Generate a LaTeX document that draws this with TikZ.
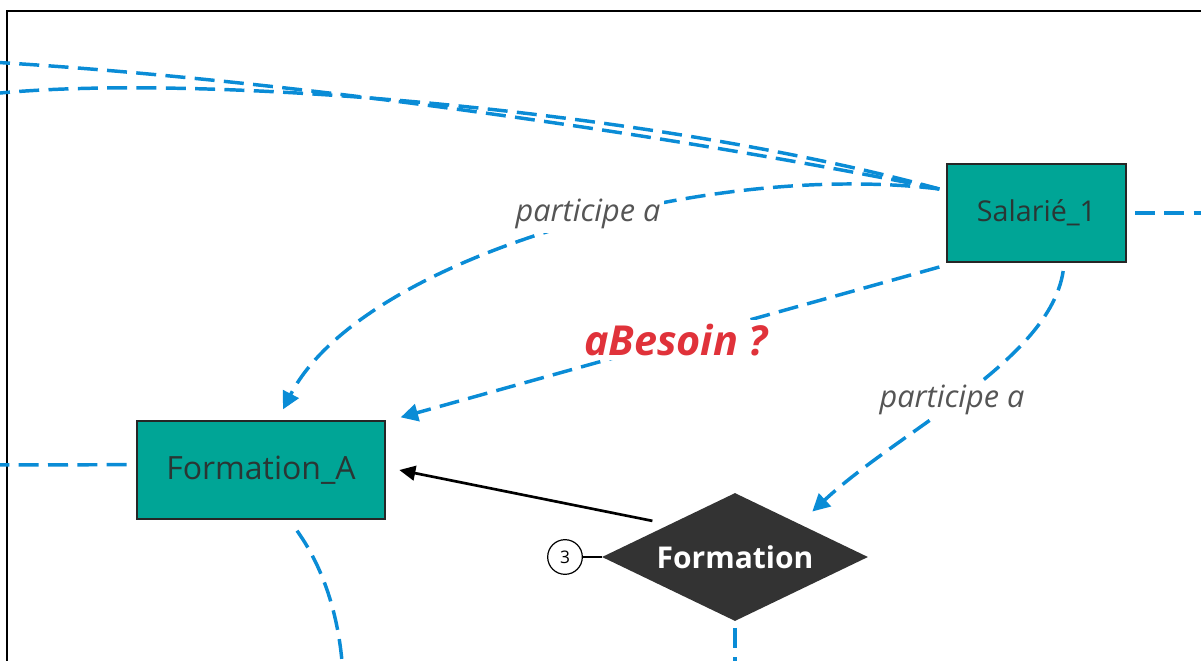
\documentclass[tikz,border=0pt]{standalone}
\usepackage{fontspec}
\setmainfont{Open Sans}
\usetikzlibrary{arrows.meta,shapes.geometric}
\definecolor{teal1}{HTML}{00A596}
\definecolor{blue1}{HTML}{0A8CD6}
\definecolor{dark1}{HTML}{333333}
\definecolor{red1}{HTML}{E0323A}
\definecolor{txt1}{HTML}{2A3634}
\definecolor{lbl1}{HTML}{555555}
\tikzset{
  entity/.style={draw=black!85, line width=1.5pt, fill=teal1, text=txt1, minimum height=73.5pt, inner sep=0pt},
  rel/.style={diamond, fill=dark1, text=white, inner sep=0pt, shape aspect=2.08, minimum width=199.5pt, minimum height=96pt, font=\fontsize{22.5}{26}\selectfont\bfseries},
  card/.style={circle, draw=black, line width=0.9pt, fill=white, minimum size=26pt, inner sep=0pt, font=\fontsize{13}{15}\selectfont},
  link/.style={draw=blue1, line width=2.6pt, dash pattern=on 15pt off 7pt},
  linkarrow/.style={link, -{Triangle[length=13pt,width=13pt]}},
  lbl/.style={fill=white, inner sep=3pt, text=lbl1, font=\fontsize{23}{26}\selectfont\itshape},
  bigl/.style={fill=white, inner sep=3pt, text=red1, font=\fontsize{31}{34}\selectfont\bfseries\itshape},
}
\begin{document}
\begin{tikzpicture}[x=0.75pt,y=-0.75pt]
\useasboundingbox (0,0) rectangle (1201,660);
\clip (0,0) rectangle (1201,660);
\draw[line width=1.5pt] (7,11) rectangle (1230,700);

\node[entity, minimum width=134.25pt, font=\fontsize{21.5}{24}\selectfont] (sal) at (1036.5,213) {Salarié\_1};
\node[entity, minimum width=186pt, font=\fontsize{24}{27}\selectfont] (fa) at (261,470) {Formation\_A};
\node[rel] (form) at (735,557) {Formation};
\node[card] (c3) at (565,557) {3};

\coordinate (l1) at (-10,62);
\coordinate (l2) at (-10,94);
\coordinate (r1) at (1215,213);
\coordinate (l3) at (-10,465);
\coordinate (b1) at (343,675);
\coordinate (b2) at (735,675);
\coordinate (sj) at ([xshift=-5pt,yshift=18pt]sal.west);

% long curves from the left
\draw[link] (l1) .. controls (300,80) and (700,140) .. (sj);
\draw[link] (l2) .. controls (200,72) and (650,110) .. (sj);

% participe a (to Formation_A)
\draw[linkarrow] (sj) .. controls (700,160) and (360,260) .. ([xshift=16.5pt,yshift=8pt]fa.north);
\node[lbl] (pa1) at (588,214) {participe a};

% aBesoin ?
\draw[linkarrow] ([xshift=-5pt,yshift=-3pt]sal.south west) -- ([xshift=11pt,yshift=2pt]fa.north east);
\node[bigl] (ab) at (676,340) {aBesoin ?};

% participe a (to Formation)
\draw[linkarrow] ([xshift=20pt,yshift=-6pt]sal.south) .. controls (1050,360) and (900,430) .. ([xshift=8pt,yshift=10pt]form.north east);
\node[lbl] (pa2) at (952,400) {participe a};

% free ends
\draw[link] ([xshift=6pt]sal.east) -- (r1);
\draw[link] ([xshift=-7pt,yshift=4pt]fa.west) -- (l3);
\draw[link] ([xshift=27pt,yshift=-8pt]fa.south) .. controls (325,570) and (340,620) .. (b1);
\draw[link] ([yshift=-5pt]form.south) -- (b2);

% black arrow
\draw[line width=2pt, -{Triangle[length=12pt,width=11pt]}] ([xshift=-12pt,yshift=3pt]form.north west) -- ([xshift=10pt]fa.east);
\draw[line width=0.9pt] (c3) -- (form.west);
\end{tikzpicture}
\end{document}
